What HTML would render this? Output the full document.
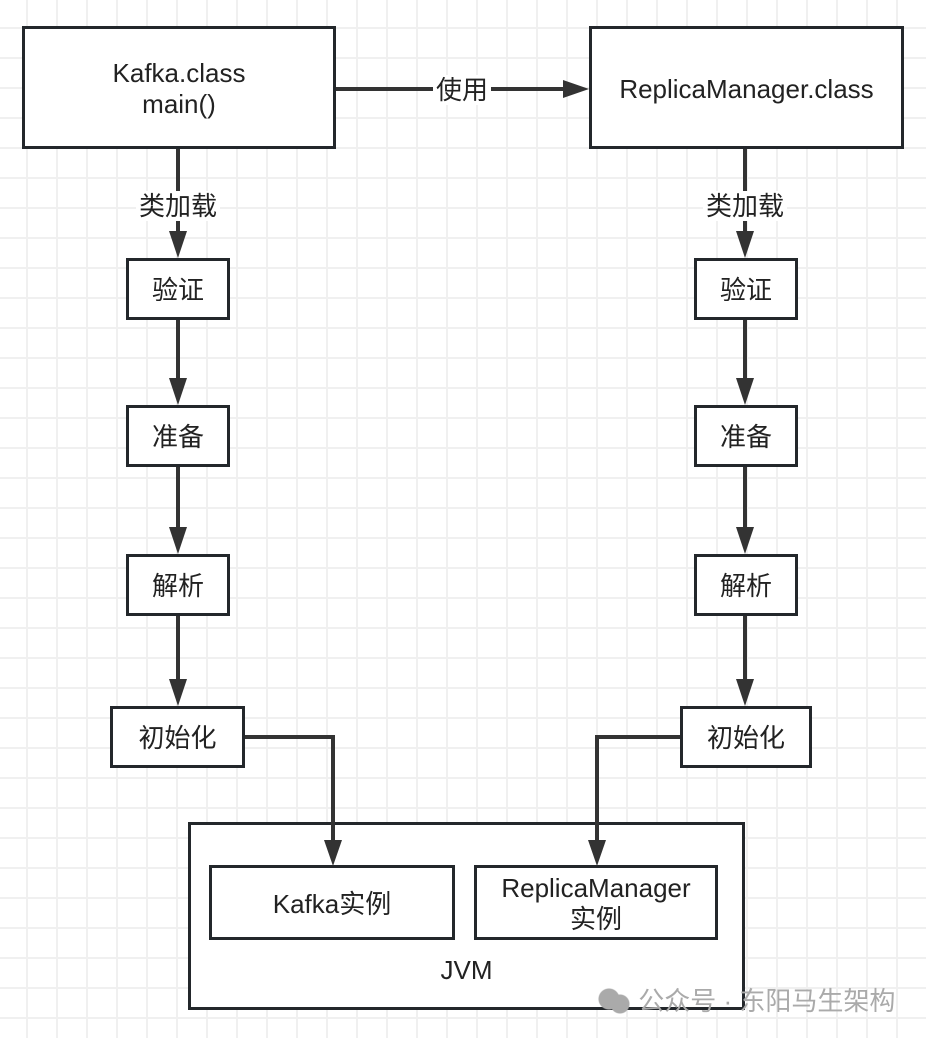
<!DOCTYPE html>
<html><head><meta charset="utf-8"><style>
html,body{margin:0;padding:0;background:#fff}
body{width:926px;height:1038px;position:relative;overflow:hidden;font-family:"Liberation Sans","Noto Sans CJK SC",sans-serif;}
.grid{position:absolute;left:0;top:0;width:926px;height:1038px;
background-image:linear-gradient(to right,#f0f0f0 2px,transparent 2px),linear-gradient(to bottom,#f0f0f0 2px,transparent 2px);
background-size:30px 30px;background-position:26px 27px;}
.b{position:absolute;box-sizing:border-box;border:3px solid #23272b;background:#fff;display:flex;align-items:center;justify-content:center;text-align:center;color:#222;font-size:26px;line-height:31px;padding-top:3px}
.lbl{position:absolute;background:#fff;font-size:26px;color:#222;line-height:30px;padding:0 3px;z-index:3}
svg{position:absolute;left:0;top:0;z-index:2}
</style></head><body>
<div class="grid"></div>
<div class="b" style="left:22px;top:26px;width:314px;height:123px">Kafka.class<br>main()</div>
<div class="b" style="left:589px;top:26px;width:315px;height:123px">ReplicaManager.class</div>
<div class="b" style="left:126px;top:258px;width:104px;height:62px">验证</div>
<div class="b" style="left:126px;top:405px;width:104px;height:62px">准备</div>
<div class="b" style="left:126px;top:554px;width:104px;height:62px">解析</div>
<div class="b" style="left:110px;top:706px;width:135px;height:62px">初始化</div>
<div class="b" style="left:694px;top:258px;width:104px;height:62px">验证</div>
<div class="b" style="left:694px;top:405px;width:104px;height:62px">准备</div>
<div class="b" style="left:694px;top:554px;width:104px;height:62px">解析</div>
<div class="b" style="left:680px;top:706px;width:132px;height:62px">初始化</div>
<div class="b" style="left:188px;top:822px;width:557px;height:188px;align-items:flex-end;padding-bottom:21px">JVM</div>
<div class="b" style="left:209px;top:865px;width:246px;height:75px">Kafka实例</div>
<div class="b" style="left:474px;top:865px;width:244px;height:75px">ReplicaManager<br>实例</div>
<svg width="926" height="1038">
<g stroke="#333" stroke-width="4" fill="none">
<path d="M336,89 H565"/>
<line x1="178" y1="149" x2="178" y2="235"/>
<line x1="178" y1="320" x2="178" y2="382"/>
<line x1="178" y1="467" x2="178" y2="531"/>
<line x1="178" y1="616" x2="178" y2="683"/>
<line x1="745" y1="149" x2="745" y2="235"/>
<line x1="745" y1="320" x2="745" y2="382"/>
<line x1="745" y1="467" x2="745" y2="531"/>
<line x1="745" y1="616" x2="745" y2="683"/>
<path d="M245,737 H333 V844"/>
<path d="M680,737 H597 V844"/>
</g>
<g fill="#333">
<path d="M169,231 L187,231 L178,258 z"/><path d="M169,378 L187,378 L178,405 z"/><path d="M169,527 L187,527 L178,554 z"/><path d="M169,679 L187,679 L178,706 z"/>
<path d="M736,231 L754,231 L745,258 z"/><path d="M736,378 L754,378 L745,405 z"/><path d="M736,527 L754,527 L745,554 z"/><path d="M736,679 L754,679 L745,706 z"/>
<path d="M324,840 L342,840 L333,866 z"/><path d="M588,840 L606,840 L597,866 z"/>
<path d="M563,80 L563,98 L589,89 z"/>
</g>
</svg>
<div class="lbl" style="left:433px;top:75px">使用</div>
<div class="lbl" style="left:136px;top:191px">类加载</div>
<div class="lbl" style="left:703px;top:191px">类加载</div>
<div style="position:absolute;left:597px;top:986px;font-size:26px;color:#aaa;line-height:30px;white-space:nowrap;z-index:4"><span style="display:inline-block;width:34px;height:26px;vertical-align:-4px;background:radial-gradient(circle at 12px 11px,#aaa 10px,transparent 11px),radial-gradient(circle at 23px 16px,#aaa 9px,transparent 10px)"></span> 公众号 · 东阳马生架构</div>
</body></html>
